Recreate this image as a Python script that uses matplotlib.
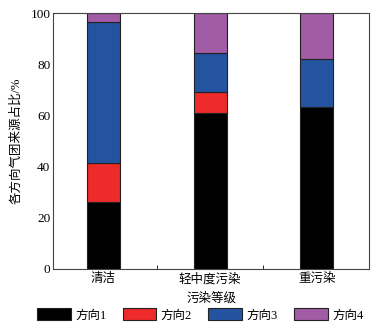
import numpy as np
import matplotlib
matplotlib.use("Agg")
import matplotlib.pyplot as plt
from matplotlib.ticker import FixedLocator

plt.rcParams['font.family'] = ['Liberation Serif', 'Noto Sans CJK SC']
plt.rcParams['font.size'] = 9

# data
categories = ["清洁", "轻中度污染", "重污染"]
series_names = ["方向1", "方向2", "方向3", "方向4"]
dir1 = [26.2, 60.9, 63.5]
dir2 = [15.1, 8.2, 0.0]
dir3 = [55.4, 15.2, 18.6]
dir4 = [3.3, 15.7, 17.9]
colors = ["#000000", "#ee2a2a", "#2454a0", "#a25ca6"]

fig = plt.figure(figsize=(3.85, 3.28), dpi=100)
ax = fig.add_axes([0.138, 0.18, 0.821, 0.78])

x = np.arange(len(categories))
bottom = np.zeros(len(categories))
for vals, name, c in zip([dir1, dir2, dir3, dir4], series_names, colors):
    ax.bar(x, vals, width=0.31, bottom=bottom, color=c, edgecolor="#222222",
           linewidth=0.8, label=name)
    bottom += np.array(vals)

ax.set_xlim(-0.47, 2.49)
ax.set_ylim(0, 100)
ax.set_xticks(x)
ax.set_xticklabels(categories)
ax.xaxis.set_minor_locator(FixedLocator([0.5, 1.5]))
ax.tick_params(axis='x', which='major', length=0, pad=3)
ax.tick_params(axis='x', which='minor', direction='in', length=3)
ax.tick_params(axis='y', direction='in', length=0, pad=2, labelsize=9.5)
ax.set_yticks([0, 20, 40, 60, 80, 100])
for s in ax.spines.values():
    s.set_color("#444444")
    s.set_linewidth(0.8)

ax.set_xlabel("污染等级", labelpad=5)
ax.set_ylabel("各方向气团来源占比/%", labelpad=6)

fig.legend(loc='lower center', bbox_to_anchor=(0.52, -0.015), ncol=4,
           frameon=False, handlelength=2.7, handleheight=1.1,
           columnspacing=1.3, handletextpad=0.35)

fig.savefig("out.png", dpi=100)
